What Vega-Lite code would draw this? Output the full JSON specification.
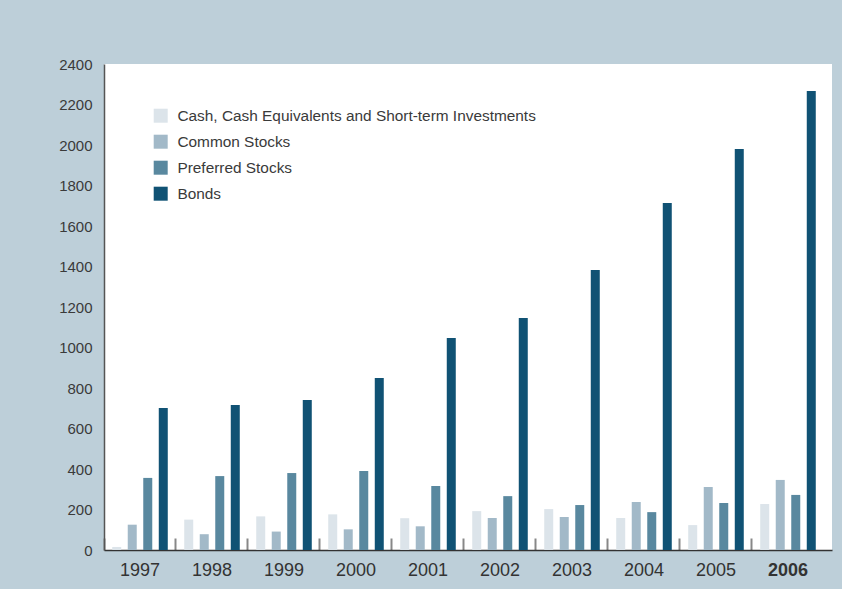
{
  "$schema": "https://vega.github.io/schema/vega-lite/v6.json",
  "width": 728,
  "height": 486,
  "autosize": {"type": "none"},
  "padding": {"left": 104, "top": 64, "right": 10, "bottom": 39},
  "background": "#bdcfd9",
  "config": {
    "view": {"fill": "white", "stroke": null},
    "font": "Liberation Sans"
  },
  "data": {
    "values": [
      {"year": "1997", "type": "Cash, Cash Equivalents and Short-term Investments", "value": 15},
      {"year": "1997", "type": "Common Stocks", "value": 125},
      {"year": "1997", "type": "Preferred Stocks", "value": 356},
      {"year": "1997", "type": "Bonds", "value": 701},
      {"year": "1998", "type": "Cash, Cash Equivalents and Short-term Investments", "value": 150},
      {"year": "1998", "type": "Common Stocks", "value": 78},
      {"year": "1998", "type": "Preferred Stocks", "value": 365},
      {"year": "1998", "type": "Bonds", "value": 716},
      {"year": "1999", "type": "Cash, Cash Equivalents and Short-term Investments", "value": 166},
      {"year": "1999", "type": "Common Stocks", "value": 91},
      {"year": "1999", "type": "Preferred Stocks", "value": 380},
      {"year": "1999", "type": "Bonds", "value": 741},
      {"year": "2000", "type": "Cash, Cash Equivalents and Short-term Investments", "value": 176},
      {"year": "2000", "type": "Common Stocks", "value": 102},
      {"year": "2000", "type": "Preferred Stocks", "value": 390},
      {"year": "2000", "type": "Bonds", "value": 849},
      {"year": "2001", "type": "Cash, Cash Equivalents and Short-term Investments", "value": 157},
      {"year": "2001", "type": "Common Stocks", "value": 117},
      {"year": "2001", "type": "Preferred Stocks", "value": 316},
      {"year": "2001", "type": "Bonds", "value": 1047},
      {"year": "2002", "type": "Cash, Cash Equivalents and Short-term Investments", "value": 192},
      {"year": "2002", "type": "Common Stocks", "value": 158},
      {"year": "2002", "type": "Preferred Stocks", "value": 266},
      {"year": "2002", "type": "Bonds", "value": 1146},
      {"year": "2003", "type": "Cash, Cash Equivalents and Short-term Investments", "value": 202},
      {"year": "2003", "type": "Common Stocks", "value": 163},
      {"year": "2003", "type": "Preferred Stocks", "value": 222},
      {"year": "2003", "type": "Bonds", "value": 1383},
      {"year": "2004", "type": "Cash, Cash Equivalents and Short-term Investments", "value": 158},
      {"year": "2004", "type": "Common Stocks", "value": 237},
      {"year": "2004", "type": "Preferred Stocks", "value": 187},
      {"year": "2004", "type": "Bonds", "value": 1714},
      {"year": "2005", "type": "Cash, Cash Equivalents and Short-term Investments", "value": 123},
      {"year": "2005", "type": "Common Stocks", "value": 311},
      {"year": "2005", "type": "Preferred Stocks", "value": 232},
      {"year": "2005", "type": "Bonds", "value": 1980},
      {"year": "2006", "type": "Cash, Cash Equivalents and Short-term Investments", "value": 227},
      {"year": "2006", "type": "Common Stocks", "value": 346},
      {"year": "2006", "type": "Preferred Stocks", "value": 272},
      {"year": "2006", "type": "Bonds", "value": 2267}
    ]
  },
  "mark": {"type": "bar"},
  "encoding": {
    "x": {
      "field": "year",
      "type": "nominal",
      "scale": {"paddingInner": 0, "paddingOuter": 0.0556, "align": 0},
      "axis": {
        "title": null,
        "labelAngle": 0,
        "labelFontSize": 18,
        "labelColor": "#333333",
        "labelFontWeight": {"expr": "datum.value == '2006' ? 'bold' : 'normal'"},
        "labelPadding": 23,
        "bandPosition": 0,
        "ticks": true,
        "tickSize": -12,
        "tickWidth": 2,
        "tickColor": "#888888",
        "domainColor": "#333333",
        "domainWidth": 1.5
      }
    },
    "xOffset": {
      "field": "type",
      "type": "nominal",
      "sort": ["Cash, Cash Equivalents and Short-term Investments", "Common Stocks", "Preferred Stocks", "Bonds"],
      "scale": {"paddingInner": 0.42, "paddingOuter": 0.53}
    },
    "y": {
      "field": "value",
      "type": "quantitative",
      "scale": {"domain": [0, 2400], "nice": false},
      "axis": {
        "title": null,
        "format": "d",
        "values": [0, 200, 400, 600, 800, 1000, 1200, 1400, 1600, 1800, 2000, 2200, 2400],
        "grid": false,
        "ticks": false,
        "labelFontSize": 15,
        "labelColor": "#3a3a3a",
        "labelPadding": 12,
        "domainColor": "#555555",
        "domainWidth": 1.5
      }
    },
    "color": {
      "field": "type",
      "type": "nominal",
      "scale": {
        "domain": ["Cash, Cash Equivalents and Short-term Investments", "Common Stocks", "Preferred Stocks", "Bonds"],
        "range": ["#dce4ea", "#a2b9c8", "#59889f", "#105274"]
      },
      "legend": {
        "title": null,
        "orient": "none",
        "legendX": 49,
        "legendY": 44,
        "padding": 0,
        "symbolType": "square",
        "symbolSize": 196,
        "symbolStrokeWidth": 0,
        "symbolOpacity": 1,
        "labelFontSize": 15.4,
        "labelColor": "#3a3a3a",
        "labelOffset": 9,
        "rowPadding": 9,
        "labelLimit": 500
      }
    }
  }
}
